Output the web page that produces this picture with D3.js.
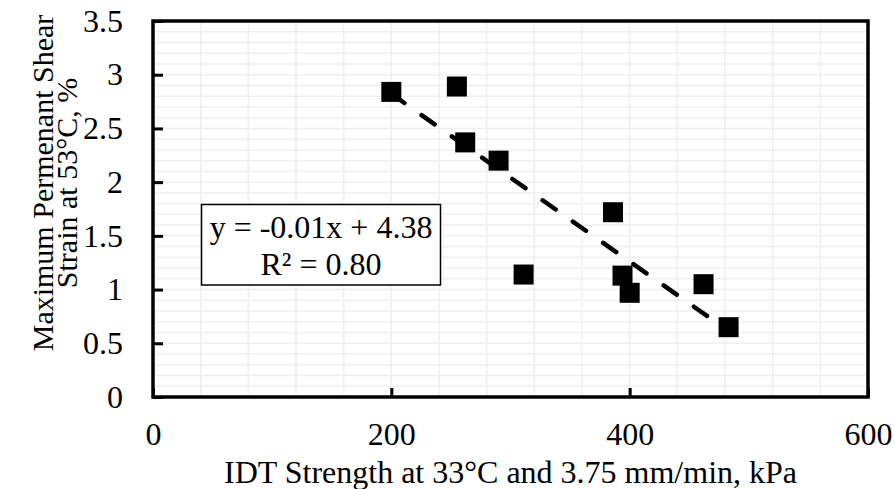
<!DOCTYPE html>
<html>
<head>
<meta charset="utf-8">
<script src="https://cdn.jsdelivr.net/npm/d3@7"></script>
<style>
  body { margin: 0; background: #fff; }
  text { font-family: "Liberation Serif", "Times New Roman", serif; fill: #000; }
</style>
</head>
<body>
<div id="chart"></div>
<script>
// data
const idtStrength = [200, 255, 262, 290, 386, 311, 394, 400, 462, 483];
const shearStrain = [2.84, 2.89, 2.37, 2.20, 1.72, 1.14, 1.13, 0.97, 1.05, 0.65];
const xTicks = [0, 200, 400, 600];
const yTicks = [0, 0.5, 1, 1.5, 2, 2.5, 3, 3.5];
const xTitle = "IDT Strength at 33°C and 3.75 mm/min, kPa";
const yTitle = ["Maximum Permenant Shear", "Strain at 53°C, %"];

const width = 895, height = 489;
const margin = {top: 21, right: 27, bottom: 92, left: 153};
const iw = width - margin.left - margin.right;
const ih = height - margin.top - margin.bottom;

const svg = d3.select("#chart")
  .append("svg")
  .attr("width", width)
  .attr("height", height);

const g = svg.append("g")
  .attr("transform", `translate(${margin.left},${margin.top})`);

const x = d3.scaleLinear().domain([0, 600]).range([0, iw]);
const y = d3.scaleLinear().domain([0, 3.5]).range([ih, 0]);

// light grid: every 40 kPa and every 0.1 %
const gridX = d3.range(0, 15).map(i => i * 40);
const gridY = d3.range(0, 35).map(i => +(i * 0.1).toFixed(1));

g.append("g").selectAll("line")
  .data(gridX)
  .join("line")
  .attr("x1", d => x(d)).attr("x2", d => x(d))
  .attr("y1", 0).attr("y2", ih)
  .attr("stroke", "#efefef")
  .attr("stroke-width", 1.5);

g.append("g").selectAll("line")
  .data(gridY)
  .join("line")
  .attr("x1", 0).attr("x2", iw)
  .attr("y1", d => y(d)).attr("y2", d => y(d))
  .attr("stroke", "#efefef")
  .attr("stroke-width", 1.5);

// axes with inward ticks
const xAxis = g.append("g")
  .attr("transform", `translate(0,${ih})`)
  .call(d3.axisBottom(x).tickValues(xTicks).tickSizeInner(-9).tickSizeOuter(0).tickPadding(25));

const yAxis = g.append("g")
  .call(d3.axisLeft(y).tickValues(yTicks).tickFormat(d => String(d)).tickSizeInner(-10).tickSizeOuter(0).tickPadding(30));

[xAxis, yAxis].forEach(a => {
  a.select(".domain").remove();
  a.selectAll(".tick line").attr("stroke", "#000").attr("stroke-width", 3);
  a.selectAll(".tick text")
    .style("font-family", '"Liberation Serif", "Times New Roman", serif')
    .style("font-size", "32px")
    .attr("fill", "#000");
});

// frame round the plot area
g.append("rect")
  .attr("x", 0).attr("y", 0)
  .attr("width", iw).attr("height", ih)
  .attr("fill", "none")
  .attr("stroke", "#000")
  .attr("stroke-width", 3.5);

// markers
const points = idtStrength.map((v, i) => ({x: v, y: shearStrain[i]}));
const size = 20;

g.append("g").selectAll("rect")
  .data(points)
  .join("rect")
  .attr("x", d => x(d.x) - size / 2)
  .attr("y", d => y(d.y) - size / 2)
  .attr("width", size)
  .attr("height", size)
  .attr("fill", "#000");

// linear trendline (least squares)
const mx = d3.mean(points, d => d.x);
const my = d3.mean(points, d => d.y);
const sxy = d3.sum(points, d => (d.x - mx) * (d.y - my));
const sxx = d3.sum(points, d => (d.x - mx) ** 2);
const syy = d3.sum(points, d => (d.y - my) ** 2);
const slope = sxy / sxx;
const intercept = my - slope * mx;
const r2 = (sxy * sxy) / (sxx * syy);

const [xmin, xmax] = d3.extent(points, d => d.x);
const trend = [xmin, xmax].map(v => ({x: v, y: intercept + slope * v}));

g.append("path")
  .datum(trend)
  .attr("d", d3.line().x(d => x(d.x)).y(d => y(d.y)))
  .attr("fill", "none")
  .attr("stroke", "#000")
  .attr("stroke-width", 4.5)
  .attr("stroke-linecap", "round")
  .attr("stroke-dasharray", "16,21");

// equation box
const box = svg.append("g");
box.append("rect")
  .attr("x", 201.5).attr("y", 204.5)
  .attr("width", 239).attr("height", 80.5)
  .attr("fill", "#fff")
  .attr("stroke", "#000")
  .attr("stroke-width", 1.5);

const eq = `y = ${slope.toFixed(2)}x + ${intercept.toFixed(2)}`;
box.append("text")
  .attr("x", 321).attr("y", 237.5)
  .attr("text-anchor", "middle")
  .style("font-size", "32px")
  .text(eq);
box.append("text")
  .attr("x", 321).attr("y", 275)
  .attr("text-anchor", "middle")
  .style("font-size", "32px")
  .text(`R² = ${r2.toFixed(2)}`);

// axis titles
svg.append("text")
  .attr("x", margin.left + iw / 2)
  .attr("y", 483)
  .attr("text-anchor", "middle")
  .style("font-size", "32px")
  .text(xTitle);

svg.append("text")
  .attr("transform", "translate(0,183) rotate(-90)")
  .attr("text-anchor", "middle")
  .style("font-size", "30px")
  .selectAll("tspan")
  .data(yTitle)
  .join("tspan")
  .attr("x", 0)
  .attr("y", (d, i) => 53 + i * 24)
  .text(d => d);
</script>
</body>
</html>
